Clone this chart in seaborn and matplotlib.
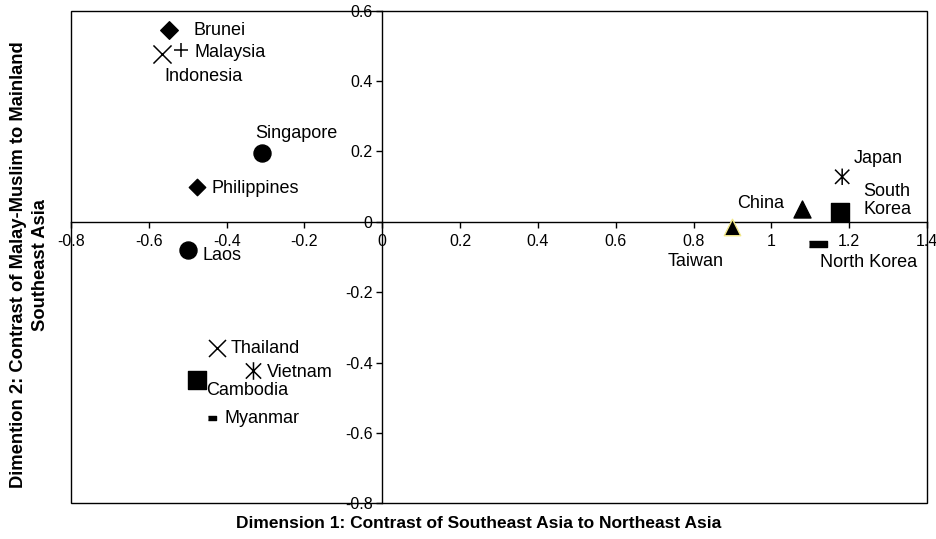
import numpy as np
import pandas as pd
import matplotlib
matplotlib.use("Agg")
import matplotlib.pyplot as plt
from matplotlib.path import Path
from matplotlib.patches import Rectangle
from matplotlib.ticker import FixedLocator, FuncFormatter
import seaborn as sns

# ---- data ----
countries = ["Brunei", "Malaysia", "Indonesia", "Singapore", "Philippines", "Laos",
             "Thailand", "Vietnam", "Cambodia", "Myanmar",
             "Japan", "South\nKorea", "China", "Taiwan", "North Korea"]
dim1 = [-0.548, -0.517, -0.566, -0.309, -0.476, -0.500,
        -0.425, -0.331, -0.476, -0.438,
        1.182, 1.177, 1.079, 0.900, 1.119]
dim2 = [0.545, 0.488, 0.476, 0.195, 0.100, -0.080,
        -0.359, -0.424, -0.449, -0.558,
        0.128, 0.029, 0.035, -0.016, -0.063]
x_ticks = [-0.8, -0.6, -0.4, -0.2, 0, 0.2, 0.4, 0.6, 0.8, 1, 1.2, 1.4]
y_ticks = [-0.8, -0.6, -0.4, -0.2, 0, 0.2, 0.4, 0.6]
x_title = "Dimension 1: Contrast of Southeast Asia to Northeast Asia"
y_title = "Dimention 2: Contrast of Malay-Muslim to Mainland\nSoutheast Asia"

df = pd.DataFrame({"country": countries, "d1": dim1, "d2": dim2})

# ---- styles ----
sns.set_theme(style="white")
plt.rcParams["font.family"] = ["Liberation Sans", "DejaVu Sans"]
plt.rcParams["axes.unicode_minus"] = False

asterisk = Path([(-1, -1), (1, 1), (-1, 1), (1, -1), (0, -1.15), (0, 1.15)],
                [Path.MOVETO, Path.LINETO, Path.MOVETO, Path.LINETO, Path.MOVETO, Path.LINETO])
dash_long = [(-1, -0.3), (1, -0.3), (1, 0.3), (-1, 0.3)]
dash_short = [(-1, -0.45), (1, -0.45), (1, 0.45), (-1, 0.45)]

# marker, size, edgecolor, label offset (px), ha, va, kind
style = {
    "Brunei":      ("D", 80, "black", (24, 0), "left", "center", "fill"),
    "Malaysia":    ("+", 95, "black", (13, -2), "left", "center", "line"),
    "Indonesia":   ("x", 170, "black", (2, -22), "left", "center", "line"),
    "Singapore":   ("o", 150, "black", (-7, 20), "left", "center", "fill"),
    "Philippines": ("D", 70, "black", (14, -2), "left", "center", "fill"),
    "Laos":        ("o", 150, "black", (15, -6), "left", "center", "fill"),
    "Thailand":    ("x", 150, "black", (14, 0), "left", "center", "line"),
    "Vietnam":     (asterisk, 160, "black", (13, -1), "left", "center", "path"),
    "Cambodia":    ("s", 150, "black", (9, -11), "left", "center", "fill"),
    "Myanmar":     (dash_short, 36, "black", (13, 0), "left", "center", "fill"),
    "Japan":       (asterisk, 140, "black", (12, 18), "left", "center", "path"),
    "South\nKorea": ("s", 150, "black", (23, 11), "left", "center", "fill"),
    "China":       ("^", 150, "black", (-18, 6), "right", "center", "fill"),
    "Taiwan":      ("^", 140, "#f2e88a", (-37, -34), "center", "center", "fill"),
    "North Korea": (dash_long, 150, "black", (2, -19), "left", "center", "fill"),
}

fig = plt.figure(figsize=(9.37, 5.39), dpi=100)
ax = fig.add_axes([71 / 937, 1 - 503.3 / 539, 856 / 937, 492.6 / 539])
ax.set_facecolor("white")

for _, row in df.iterrows():
    mk, s, ec, off, ha, va, kind = style[row["country"]]
    sub = df[df["country"] == row["country"]]
    kw = dict(marker=mk, s=s, legend=False, ax=ax, zorder=5)
    if kind == "line":
        kw.update(color="black", linewidth=1.1)
    elif kind == "path":
        kw.update(facecolor="none", edgecolor="black", linewidth=1.1)
    else:
        kw.update(color="black", edgecolor=ec, linewidth=1.0)
    sns.scatterplot(data=sub, x="d1", y="d2", **kw)
    ax.annotate(row["country"], (row["d1"], row["d2"]), xytext=off,
                textcoords="offset pixels", ha=ha, va=va, fontsize=13,
                color="black", linespacing=1.1, zorder=6)

ax.set_xlim(-0.8, 1.4)
ax.set_ylim(-0.8, 0.6)

# axes through origin, plus a frame box
for side in ("top", "right"):
    ax.spines[side].set_visible(False)
ax.spines["left"].set_position(("data", 0))
ax.spines["bottom"].set_position(("data", 0))
for side in ("left", "bottom"):
    ax.spines[side].set_color("black")
    ax.spines[side].set_linewidth(1.0)
ax.add_patch(Rectangle((0, 0), 1, 1, transform=ax.transAxes, fill=False,
                       edgecolor="black", linewidth=1.0, clip_on=False, zorder=4))

ax.xaxis.set_major_locator(FixedLocator(x_ticks))
ax.yaxis.set_major_locator(FixedLocator(y_ticks))
fmt = FuncFormatter(lambda v, p: f"{v:g}")
ax.xaxis.set_major_formatter(fmt)
ax.yaxis.set_major_formatter(fmt)
ax.tick_params(axis="both", which="major", direction="out", length=4, width=1,
               color="black", labelsize=11.5, labelcolor="black", pad=3)
ax.tick_params(axis="x", bottom=True, top=False, pad=5)
ax.tick_params(axis="y", left=True, right=False)
ax.set_xlabel("")
ax.set_ylabel("")
ax.grid(False)

fig.text(479 / 937, 1 - 523 / 539, x_title, ha="center", va="center",
         fontsize=12.5, fontweight="bold", color="black")
fig.text(29.5 / 937, 1 - 265 / 539, y_title, ha="center", va="center",
         rotation=90, fontsize=13.2, fontweight="bold", color="black",
         multialignment="center", linespacing=1.45)

fig.savefig("out.png", dpi=100, facecolor="white")
